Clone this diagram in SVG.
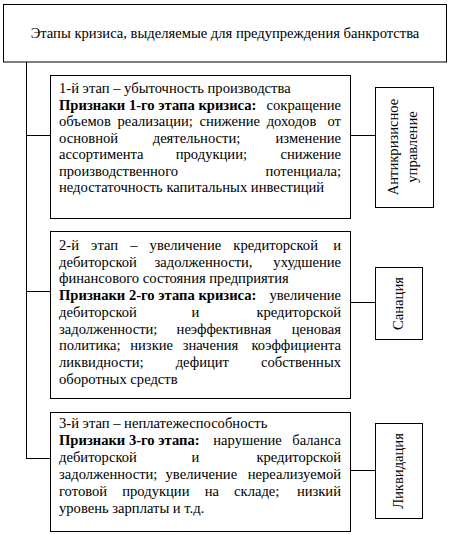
<svg xmlns="http://www.w3.org/2000/svg" width="450" height="534" viewBox="0 0 450 534">
<rect width="450" height="534" fill="#fff"/>
<g id="connectors" stroke="#000" stroke-width="1" fill="none">
<path d="M26.5,62 V458.5 M26,135.5 H50 M26,291.5 H50 M26,458.5 H50 M350,135.5 H375 M350,302.5 H375 M350,470.5 H375"/>
</g>
<g id="title">
<rect x="3.5" y="4.5" width="443" height="57.5" fill="#fff" stroke="#000"/>
<text x="225" y="38" text-anchor="middle" style="font-family:'Liberation Serif',serif;font-size:14.6px">Этапы кризиса, выделяемые для предупреждения банкротства</text>
</g>
<g id="stage1">
<rect x="50.5" y="75.5" width="300" height="143" fill="#fff" stroke="#000"/>
<text x="59" y="93" style="font-family:'Liberation Serif',serif;font-size:14.6px">1-й этап – убыточность производства</text>
<text y="109.5" style="font-family:'Liberation Serif',serif;font-size:14.6px"><tspan x="59" font-weight="bold">Признаки 1-го этапа кризиса:</tspan><tspan x="341" text-anchor="end">сокращение</tspan></text>
<text y="126" style="font-family:'Liberation Serif',serif;font-size:14.6px"><tspan x="59" word-spacing="3">объемов реализации; снижение доходов</tspan><tspan x="341" text-anchor="end">от</tspan></text>
<text y="142.5" style="font-family:'Liberation Serif',serif;font-size:14.6px"><tspan x="59" word-spacing="31">основной деятельности;</tspan><tspan x="341" text-anchor="end">изменение</tspan></text>
<text y="159" style="font-family:'Liberation Serif',serif;font-size:14.6px"><tspan x="59" word-spacing="28.5">ассортимента продукции;</tspan><tspan x="341" text-anchor="end">снижение</tspan></text>
<text y="175.5" style="font-family:'Liberation Serif',serif;font-size:14.6px"><tspan x="59">производственного</tspan><tspan x="341" text-anchor="end">потенциала;</tspan></text>
<text x="59" y="192" style="font-family:'Liberation Serif',serif;font-size:14.6px">недостаточность капитальных инвестиций</text>
</g>
<g id="antikrizis">
<rect x="375.5" y="87.5" width="58" height="120" fill="#fff" stroke="#000"/>
<text transform="translate(398,147) rotate(-90)" x="0" y="0" text-anchor="middle" style="font-family:'Liberation Serif',serif;font-size:14.6px">Антикризисное</text>
<text transform="translate(417,147) rotate(-90)" x="0" y="0" text-anchor="middle" style="font-family:'Liberation Serif',serif;font-size:14.6px">управление</text>
</g>
<g id="stage2">
<rect x="50.5" y="231.5" width="300" height="167" fill="#fff" stroke="#000"/>
<text y="250" style="font-family:'Liberation Serif',serif;font-size:14.6px"><tspan x="59" word-spacing="8.5">2-й этап – увеличение кредиторской</tspan><tspan x="341" text-anchor="end">и</tspan></text>
<text y="266.7" style="font-family:'Liberation Serif',serif;font-size:14.6px"><tspan x="59" word-spacing="14">дебиторской задолженности,</tspan><tspan x="341" text-anchor="end">ухудшение</tspan></text>
<text x="59" y="283.4" style="font-family:'Liberation Serif',serif;font-size:14.6px">финансового состояния предприятия</text>
<text y="300" style="font-family:'Liberation Serif',serif;font-size:14.6px"><tspan x="59" font-weight="bold">Признаки 2-го этапа кризиса:</tspan><tspan x="341" text-anchor="end">увеличение</tspan></text>
<text y="316.8" style="font-family:'Liberation Serif',serif;font-size:14.6px"><tspan x="59" word-spacing="51">дебиторской и</tspan><tspan x="341" text-anchor="end">кредиторской</tspan></text>
<text y="333.5" style="font-family:'Liberation Serif',serif;font-size:14.6px"><tspan x="59" word-spacing="15.5">задолженности; неэффективная</tspan><tspan x="341" text-anchor="end">ценовая</tspan></text>
<text y="350.2" style="font-family:'Liberation Serif',serif;font-size:14.6px"><tspan x="59" word-spacing="6">политика; низкие значения</tspan><tspan x="341" text-anchor="end">коэффициента</tspan></text>
<text y="367" style="font-family:'Liberation Serif',serif;font-size:14.6px"><tspan x="59" word-spacing="28.5">ликвидности; дефицит</tspan><tspan x="341" text-anchor="end">собственных</tspan></text>
<text x="59" y="383.6" style="font-family:'Liberation Serif',serif;font-size:14.6px">оборотных средств</text>
</g>
<g id="sanacia">
<rect x="375.5" y="267.5" width="47" height="72" fill="#fff" stroke="#000"/>
<text transform="translate(403,303.5) rotate(-90)" x="0" y="0" text-anchor="middle" style="font-family:'Liberation Serif',serif;font-size:14.6px">Санация</text>
</g>
<g id="stage3">
<rect x="50.5" y="412.5" width="300" height="119" fill="#fff" stroke="#000"/>
<text x="59" y="428" style="font-family:'Liberation Serif',serif;font-size:14.6px">3-й этап – неплатежеспособность</text>
<text y="445" style="font-family:'Liberation Serif',serif;font-size:14.6px"><tspan x="59" font-weight="bold">Признаки 3-го этапа:</tspan><tspan x="341" text-anchor="end" word-spacing="6.8">нарушение баланса</tspan></text>
<text y="462" style="font-family:'Liberation Serif',serif;font-size:14.6px"><tspan x="59" word-spacing="51">дебиторской и</tspan><tspan x="341" text-anchor="end">кредиторской</tspan></text>
<text y="479" style="font-family:'Liberation Serif',serif;font-size:14.6px"><tspan x="59" word-spacing="4.5">задолженности; увеличение</tspan><tspan x="341" text-anchor="end">нереализуемой</tspan></text>
<text y="496" style="font-family:'Liberation Serif',serif;font-size:14.6px"><tspan x="59" word-spacing="11.5">готовой продукции на складе;</tspan><tspan x="341" text-anchor="end">низкий</tspan></text>
<text x="59" y="513" style="font-family:'Liberation Serif',serif;font-size:14.6px">уровень зарплаты и т.д.</text>
</g>
<g id="likvidacia">
<rect x="375.5" y="423.5" width="47" height="95" fill="#fff" stroke="#000"/>
<text transform="translate(403,471) rotate(-90)" x="0" y="0" text-anchor="middle" style="font-family:'Liberation Serif',serif;font-size:14.6px">Ликвидация</text>
</g>
</svg>
